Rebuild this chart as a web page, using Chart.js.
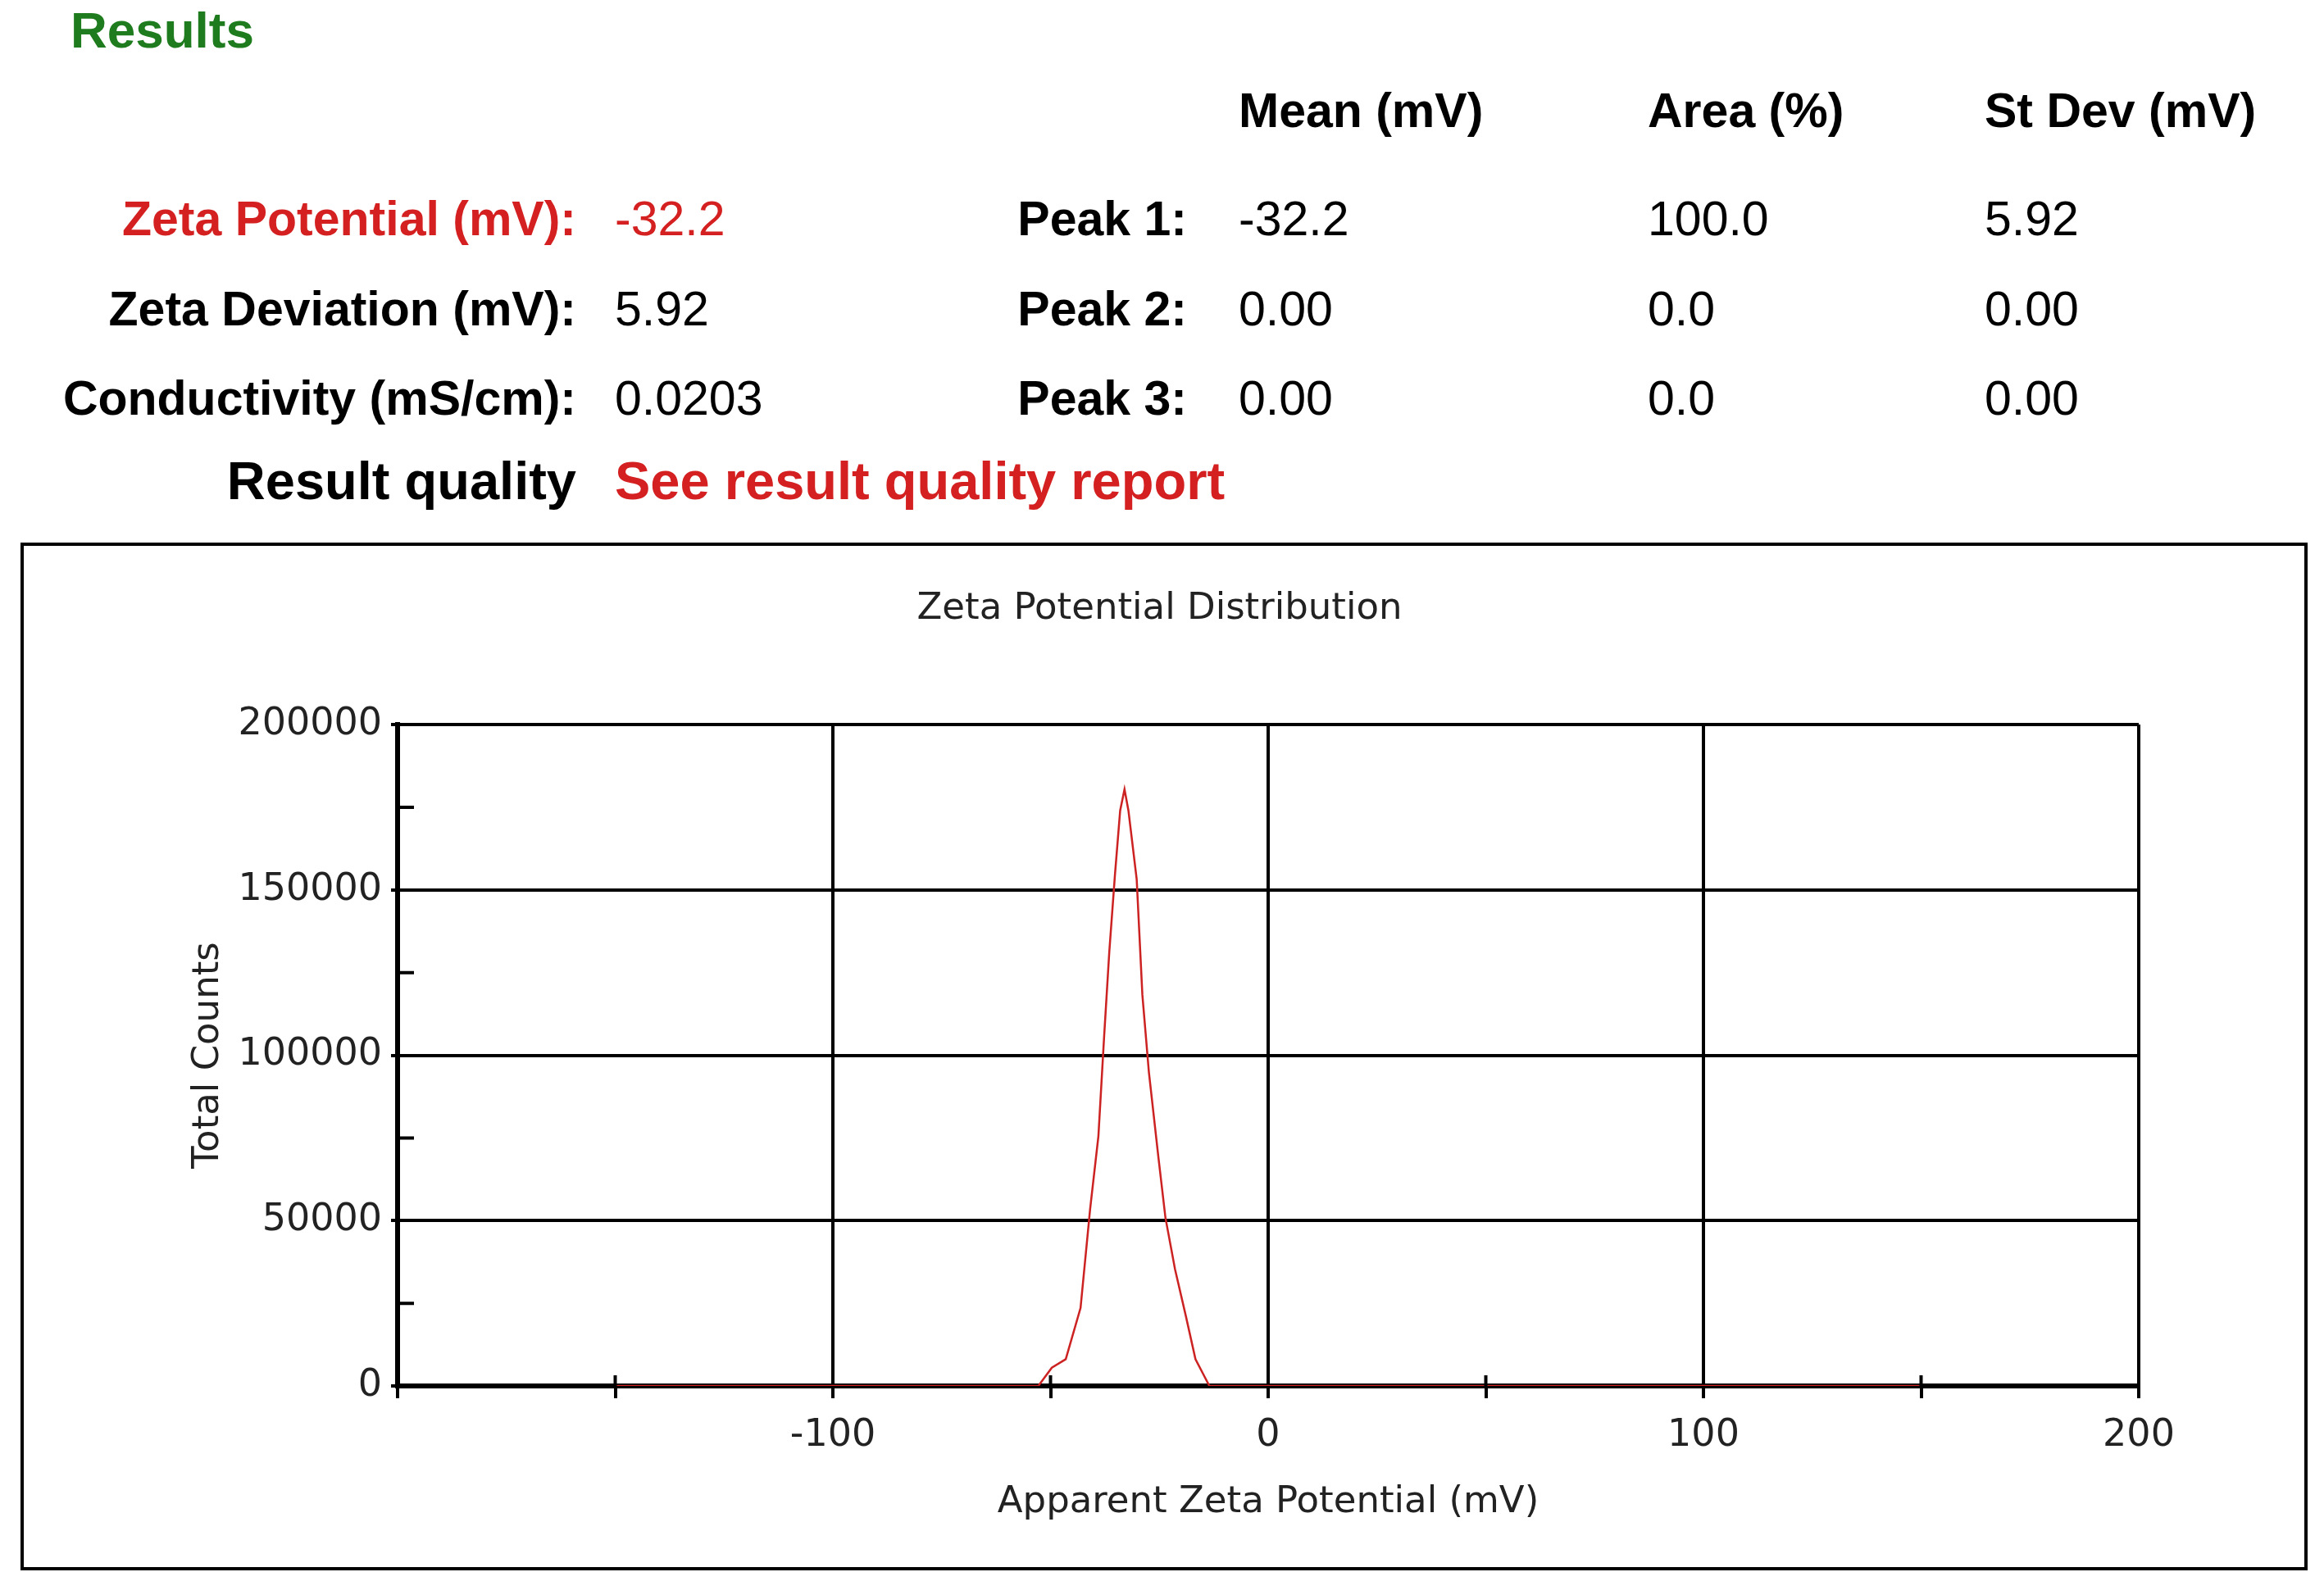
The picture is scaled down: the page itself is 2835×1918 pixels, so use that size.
<!DOCTYPE html>
<html>
<head>
<meta charset="utf-8">
<script src="https://cdn.jsdelivr.net/npm/chart.js@4.4.1/dist/chart.umd.min.js"></script>
<style>
  html, body { margin: 0; padding: 0; background: #fff; }
  body { width: 2835px; height: 1918px; position: relative; overflow: hidden;
         font-family: "Liberation Sans", Arial, sans-serif; }
  .t { position: absolute; font-size: 59px; line-height: 59px; white-space: nowrap; color: #000; }
  .b { font-weight: bold; }
  .red { color: #d42020; }
  .r { text-align: right; }
  .big { font-size: 65px; line-height: 65px; }
  #box { position: absolute; left: 25px; top: 662px; width: 2782px; height: 1246px; border: 4px solid #000; }
  #chart { position: absolute; left: 0; top: 0; }
</style>
</head>
<body>
<div id="box"></div>
<canvas id="chart" width="2835" height="1918"></canvas>

<div class="t b" style="left:86px; top:6px; font-size:62px; line-height:62px; color:#1e7b1e;">Results</div>

<div class="t b" style="left:1511px; top:106px;">Mean (mV)</div>
<div class="t b" style="left:2010px; top:106px;">Area (%)</div>
<div class="t b" style="left:2421px; top:106px;">St Dev (mV)</div>

<div class="t b red r" style="right:2132px; top:238px;">Zeta Potential (mV):</div>
<div class="t b r" style="right:2132px; top:348px;">Zeta Deviation (mV):</div>
<div class="t b r" style="right:2132px; top:457px;">Conductivity (mS/cm):</div>
<div class="t b r big" style="right:2132px; top:554px;">Result quality</div>

<div class="t red" style="left:750px; top:238px;">-32.2</div>
<div class="t" style="left:750px; top:348px;">5.92</div>
<div class="t" style="left:750px; top:457px;">0.0203</div>
<div class="t b red big" style="left:750px; top:554px;">See result quality report</div>

<div class="t b r" style="right:1387px; top:238px;">Peak 1:</div>
<div class="t b r" style="right:1387px; top:348px;">Peak 2:</div>
<div class="t b r" style="right:1387px; top:457px;">Peak 3:</div>

<div class="t" style="left:1511px; top:238px;">-32.2</div>
<div class="t" style="left:1511px; top:348px;">0.00</div>
<div class="t" style="left:1511px; top:457px;">0.00</div>
<div class="t" style="left:2010px; top:238px;">100.0</div>
<div class="t" style="left:2010px; top:348px;">0.0</div>
<div class="t" style="left:2010px; top:457px;">0.0</div>
<div class="t" style="left:2421px; top:238px;">5.92</div>
<div class="t" style="left:2421px; top:348px;">0.00</div>
<div class="t" style="left:2421px; top:457px;">0.00</div>

<script>
// apparent zeta potential (mV) and total counts
const zetaMv = [-150, -52.8, -49.7, -46.5, -43.1, -40.9, -39.0, -37.7, -36.5, -35.2, -34.0,
                -33.0, -32.1, -30.2, -28.9, -27.4, -25.2, -23.6, -21.4, -18.9, -16.7, -13.5, 150];
const totalCounts = [0, 0, 5500, 8100, 23600, 53500, 75500, 105300, 131200, 154500, 174000,
                     180400, 174000, 153200, 118300, 94900, 69000, 50900, 35300, 21100, 8100, 0, 0];

const xMin = -200, xMax = 200, xStep = 50, xMajor = 100;
const yMin = 0, yMax = 200000, yStep = 25000, yMajor = 50000;

const chartFont = "'DejaVu Sans', sans-serif";

// short inside ticks for the minor values
const minorTicks = {
  id: 'minorTicks',
  afterDatasetsDraw(chart) {
    const { ctx, scales: { x, y } } = chart;
    ctx.save();
    ctx.strokeStyle = '#000';
    ctx.lineWidth = 4;
    ctx.beginPath();
    x.ticks.filter(t => t.value % xMajor !== 0).forEach(t => {
      const px = x.getPixelForValue(t.value);
      ctx.moveTo(px, y.bottom - 13);
      ctx.lineTo(px, y.bottom);
    });
    y.ticks.filter(t => t.value % yMajor !== 0).forEach(t => {
      const py = y.getPixelForValue(t.value);
      ctx.moveTo(x.left, py);
      ctx.lineTo(x.left + 20, py);
    });
    ctx.stroke();
    ctx.restore();
  }
};

new Chart(document.getElementById('chart'), {
  type: 'scatter',
  data: {
    datasets: [{
      data: zetaMv.map((v, i) => ({ x: v, y: totalCounts[i] })),
      showLine: true,
      borderColor: '#cc2222',
      borderWidth: 2.5,
      pointRadius: 0,
      tension: 0
    }]
  },
  options: {
    responsive: false,
    animation: false,
    devicePixelRatio: 1,
    layout: { padding: { left: 220, right: 226, top: 700, bottom: 58 } },
    plugins: {
      legend: { display: false },
      tooltip: { enabled: false },
      title: {
        display: true,
        text: 'Zeta Potential Distribution',
        color: '#222',
        font: { family: chartFont, size: 45, weight: 'normal' },
        padding: { top: 16, bottom: 114 }
      }
    },
    scales: {
      x: {
        type: 'linear',
        min: xMin, max: xMax,
        afterFit: s => { s.height = 169; },
        border: { color: '#000', width: 6 },
        grid: {
          color: c => (c.tick && c.tick.value % xMajor === 0) ? '#000' : 'rgba(0,0,0,0)',
          lineWidth: 4,
          tickColor: '#000',
          tickWidth: 4,
          tickLength: 15
        },
        ticks: {
          stepSize: xStep,
          autoSkip: false,
          maxRotation: 0,
          padding: 18,
          color: '#222',
          font: { family: chartFont, size: 46 },
          callback: v => (v % xMajor === 0 && v !== xMin) ? String(v) : ''
        },
        title: {
          display: true,
          text: 'Apparent Zeta Potential (mV)',
          color: '#222',
          font: { family: chartFont, size: 45 },
          padding: 0
        }
      },
      y: {
        type: 'linear',
        min: yMin, max: yMax,
        afterFit: s => { s.width = 265; },
        border: { color: '#000', width: 6 },
        grid: {
          color: c => (c.tick && c.tick.value % yMajor === 0) ? '#000' : 'rgba(0,0,0,0)',
          lineWidth: 4,
          tickColor: c => (c.tick && c.tick.value % yMajor === 0) ? '#000' : 'rgba(0,0,0,0)',
          tickWidth: 4,
          tickLength: 8
        },
        ticks: {
          stepSize: yStep,
          autoSkip: false,
          padding: 11,
          color: '#222',
          font: { family: chartFont, size: 46 },
          callback: v => v % yMajor === 0 ? String(v) : ''
        },
        title: {
          display: true,
          text: 'Total Counts',
          color: '#222',
          font: { family: chartFont, size: 45 },
          padding: { top: 7, bottom: 0 }
        }
      }
    }
  },
  plugins: [minorTicks]
});
</script>
</body>
</html>
